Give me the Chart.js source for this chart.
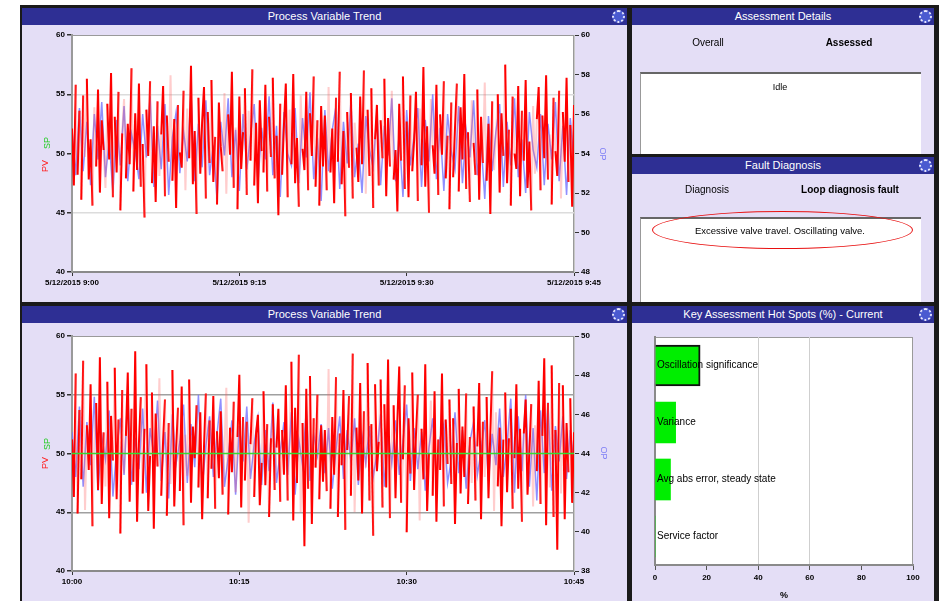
<!DOCTYPE html>
<html><head><meta charset="utf-8">
<script src="https://cdn.jsdelivr.net/npm/chart.js@4/dist/chart.umd.min.js"></script>
<style>
body{margin:0;width:939px;height:601px;background:#fff;position:relative;overflow:hidden;font-family:"Liberation Sans",Arial,sans-serif;}
.frame{position:absolute;left:20px;top:5px;width:919px;height:596px;background:#1a1a1a;}
.panel{position:absolute;background:#e4def6;overflow:hidden;}
.tbar{position:absolute;left:0;top:0;right:0;height:17px;background:#2e2f94;color:#fff;font-size:11px;line-height:17px;text-align:center;}
.gear{position:absolute;right:2px;top:2px;width:9px;height:9px;border-radius:50%;border:2px dotted #e8e8ff;background:#4a5ad0;}
canvas{position:absolute;left:0;}
.vt{position:absolute;font-size:9px;white-space:nowrap;width:30px;text-align:center;line-height:10px;}
.lbl{position:absolute;font-size:10px;white-space:nowrap;transform:translateX(-50%);}
.wbox{position:absolute;background:#fff;border-top:2px solid #666;border-left:1px solid #999;}
</style></head>
<body>
<div class="frame"></div>

<div class="panel" style="left:22px;top:8px;width:605px;height:294px;">
  <div class="tbar">Process Variable Trend<div class="gear"></div></div>
  <canvas id="cTop" width="605" height="277" style="top:17px"></canvas>
  <div class="vt" style="left:10px;top:130px;color:#22cc22;transform:rotate(-90deg)">SP</div>
  <div class="vt" style="left:8px;top:153px;color:#ff2020;transform:rotate(-90deg)">PV</div>
  <div class="vt" style="left:566px;top:141px;color:#7f7ff5;transform:rotate(90deg)">OP</div>
</div>

<div class="panel" style="left:22px;top:306px;width:605px;height:295px;">
  <div class="tbar">Process Variable Trend<div class="gear"></div></div>
  <canvas id="cBot" width="605" height="278" style="top:17px"></canvas>
  <div class="vt" style="left:10px;top:133px;color:#22cc22;transform:rotate(-90deg)">SP</div>
  <div class="vt" style="left:8px;top:152px;color:#ff2020;transform:rotate(-90deg)">PV</div>
  <div class="vt" style="left:567px;top:142px;color:#7f7ff5;transform:rotate(90deg)">OP</div>
</div>

<div class="panel" style="left:632px;top:8px;width:302px;height:146px;">
  <div class="tbar">Assessment Details<div class="gear"></div></div>
  <div class="lbl" style="left:76px;top:29px;">Overall</div>
  <div class="lbl" style="left:217px;top:29px;font-weight:bold;">Assessed</div>
  <div class="wbox" style="left:8px;top:64px;width:280px;height:90px;">
    <div class="lbl" style="left:139px;top:8px;font-size:9px;">Idle</div>
  </div>
</div>

<div class="panel" style="left:632px;top:157px;width:302px;height:145px;">
  <div class="tbar">Fault Diagnosis<div class="gear"></div></div>
  <div class="lbl" style="left:75px;top:27px;">Diagnosis</div>
  <div class="lbl" style="left:218px;top:27px;font-weight:bold;">Loop diagnosis fault</div>
  <div class="wbox" style="left:8px;top:60px;width:280px;height:90px;"></div>
  <div class="lbl" style="left:148px;top:68px;font-size:9.5px;">Excessive valve travel. Oscillating valve.</div>
  <div style="position:absolute;left:20px;top:54px;width:259px;height:36px;border:1.5px solid #e81010;border-radius:50%;"></div>
</div>

<div class="panel" style="left:632px;top:306px;width:302px;height:295px;">
  <div class="tbar">Key Assessment Hot Spots (%) - Current<div class="gear"></div></div>
  <canvas id="cBar" width="302" height="278" style="top:17px"></canvas>
</div>

<script>
// ---- data ----
const timeLabelsTop = ['5/12/2015 9:00', '5/12/2015 9:15', '5/12/2015 9:30', '5/12/2015 9:45'];
const timeLabelsBottom = ['10:00', '10:15', '10:30', '10:45'];

const pvTop = [
52.1,47.3,55.8,48.2,53.6,46.1,54.9,49.7,56.3,47.8,
51.2,45.6,53.9,48.9,55.4,46.7,52.8,50.3,47.1,54.2,
49.5,56.8,46.3,53.1,48.4,55.2,45.2,51.7,54.6,47.9,
52.5,49.1,57.2,46.8,53.4,48.6,55.9,47.2,50.8,44.6,
53.7,49.8,56.1,47.5,52.3,45.9,54.4,48.1,51.6,55.7,
46.4,53.2,49.3,56.6,47.7,52.9,45.4,54.1,50.1,48.8,
55.3,46.9,53.8,49.6,57.4,47.4,51.9,44.9,54.7,48.3,
52.7,55.6,46.2,53.5,49.2,56.2,47.6,51.4,45.7,54.3,
50.6,48.5,55.1,46.6,53.3,49.9,56.9,47.1,52.2,45.3,
54.8,48.7,51.8,55.5,46.5,53.6,49.4,57.1,47.3,52.6,
45.8,54.5,50.2,48.4,55.8,46.8,53.1,49.7,56.4,47.9,
51.5,44.8,54.2,48.2,52.4,55.9,46.3,53.7,49.1,56.7,
47.5,51.3,45.5,54.9,50.4,48.6,55.2,46.9,53.4,49.8,
56.5,47.2,52.8,45.6,54.0,48.9,
53.2,46.9,55.6,48.4,52.1,45.8,54.7,49.3,56.9,47.4,
51.9,44.7,53.5,48.8,55.1,46.2,52.6,50.5,47.6,54.8,
49.1,57.0,46.6,53.7,48.1,55.5,45.4,51.2,54.1,47.3,
52.8,49.6,56.3,46.4,53.0,48.9,55.3,47.8,50.3,45.1,
54.2,49.4,56.5,47.0,52.7,46.3,54.9,48.5,51.1,55.2,
46.0,53.8,49.0,57.3,47.2,52.3,45.0,54.6,50.7,48.3,
55.8,46.5,53.3,49.9,56.1,47.9,51.5,45.3,54.3,48.0,
52.2,55.9,46.8,53.9,49.5,56.7,47.0,51.8,45.9,54.5,
50.9,48.2,55.4,46.1,53.1,49.2,56.0,47.7,52.5,44.9,
54.4,48.6,51.4,55.0,46.7,53.4,49.8,57.5,47.5,52.0,
45.6,54.8,50.0,48.7,55.7,46.4,53.6,49.4,56.2,47.1,
51.0,45.2,54.0,48.3,52.9,55.6,46.9,53.2,49.6,56.6,
47.8,51.6,45.7,54.7,50.2,48.1,55.3,46.2,53.5,49.3,
56.4,47.6,52.4,45.5,54.1];
const opTop = [
55.2,52.9,56.3,53.1,55.6,52.4,56.0,53.7,56.6,52.8,
54.7,52.0,55.7,53.4,56.4,52.6,55.0,54.1,52.7,56.0,
53.8,56.9,52.3,55.4,53.2,56.5,51.9,54.8,56.1,53.0,
55.1,53.6,57.0,52.6,55.5,53.3,56.7,52.9,54.4,51.7,
55.6,53.9,56.8,52.8,55.2,52.1,56.0,53.2,54.9,56.5,
52.5,55.3,53.7,56.9,52.9,55.4,51.8,56.1,54.0,53.4,
56.3,52.5,55.8,53.8,57.1,52.7,54.8,51.6,56.2,53.1,
55.2,56.4,52.2,55.6,53.5,56.6,52.8,54.5,52.0,55.9,
54.2,53.3,56.1,52.4,55.4,53.9,56.8,52.6,55.0,51.8,
56.2,53.4,54.9,56.3,52.3,55.7,53.6,57.0,52.7,55.3,
52.1,56.0,54.1,53.2,56.4,52.5,55.2,53.8,56.7,52.9,
54.6,51.7,55.9,53.1,55.1,56.5,52.3,55.6,53.4,56.8,
52.8,54.7,52.0,56.1,54.2,53.3,56.0,52.4,55.5,53.7,
56.6,52.6,55.4,51.9,55.8,53.5];

const pvBottom = [
51.2,46.3,56.8,44.9,53.7,47.8,57.9,45.2,52.4,48.6,
55.9,43.8,50.7,54.3,46.9,58.2,45.7,51.8,47.2,56.1,
44.5,53.2,49.4,57.3,46.1,52.9,43.2,55.4,48.3,51.5,
56.9,45.9,53.8,47.6,58.7,44.2,50.9,54.8,46.6,52.1,
57.6,45.1,49.8,55.2,43.6,53.4,48.9,56.4,46.4,51.1,
54.6,44.7,52.6,47.4,57.1,45.5,50.4,53.9,46.8,55.7,
43.9,51.6,48.1,56.3,45.8,52.3,49.6,54.1,47.1,53.5,
44.4,50.6,55.1,46.2,52.8,48.7,54.9,45.3,51.9,47.9,
53.6,46.5,50.2,55.6,44.8,52.2,48.4,54.4,46.7,51.4,
56.7,45.4,53.1,47.7,52.7,44.1,50.8,54.7,46.3,51.7,
53.3,45.6,49.2,55.3,47.3,52.5,44.6,51.3,54.2,46.9,
50.5,53.8,45.9,52.0,48.2,55.8,46.0,51.0,57.8,44.3,
53.9,47.5,58.4,45.0,52.6,42.1,55.5,47.0,56.6,44.0,
53.0,48.8,55.0,46.1,52.4,47.6,
52.0,46.8,57.2,45.3,53.1,48.2,56.5,44.6,51.7,49.0,
55.4,43.5,50.3,54.9,46.4,58.5,45.0,52.2,47.7,56.0,
44.9,53.6,48.8,57.7,46.0,52.5,43.0,55.9,48.5,51.0,
56.3,45.4,54.2,47.1,58.0,44.5,51.3,54.1,46.2,52.8,
57.4,45.8,49.5,55.8,43.3,53.0,48.3,56.9,46.9,51.6,
55.0,44.3,52.1,47.8,57.6,45.1,50.0,54.5,46.4,55.3,
44.2,51.2,48.6,56.8,45.5,52.9,49.1,54.6,47.4,53.0,
44.0,50.9,55.5,46.6,52.3,48.0,55.1,45.7,51.4,47.5,
54.0,46.0,50.6,56.0,44.4,52.7,48.0,54.8,46.2,51.8,
57.0,45.1,53.5,47.2,52.2,43.8,51.2,55.2,46.7,51.3,
53.8,45.3,49.6,55.9,47.0,52.1,44.2,51.7,54.6,46.5,
50.1,54.2,45.5,52.4,48.5,56.2,45.7,51.5,58.1,43.9,
54.3,47.1,57.5,44.6,52.0,41.8,56.0,46.6,55.8,44.4,
52.6,48.4,54.7,45.8,51.8];
const opBottom = [
45.1,42.8,46.4,42.3,45.6,43.4,46.9,42.1,44.9,43.7,
46.2,41.8,44.2,45.8,42.9,47.1,42.4,44.8,43.2,46.3,
42.0,45.3,43.9,46.7,42.6,45.1,41.7,46.0,43.5,44.6,
46.5,42.5,45.5,43.3,47.0,42.2,44.4,45.9,42.8,45.0,
46.8,42.3,43.8,45.7,41.9,45.4,43.6,46.4,42.7,44.5,
45.8,42.4,45.2,43.1,46.6,42.5,44.1,45.6,42.9,46.1,
41.9,44.7,43.4,46.2,42.6,45.0,43.9,45.5,43.0,45.3,
42.2,44.2,45.9,42.7,45.2,43.6,45.8,42.4,44.9,43.5,
45.4,42.8,44.0,46.0,42.3,45.1,43.5,45.7,42.9,44.6,
46.5,42.6,45.3,43.2,45.1,42.1,44.3,45.8,42.7,44.8,
45.5,42.5,43.7,46.1,43.0,45.2,42.2,44.6,45.6,42.9,
44.1,45.7,42.6,45.0,43.4,46.3,42.8,44.5,46.8,42.0,
45.9,43.1,47.0,42.3,45.3,41.6,46.2,43.0,46.6,42.1,
45.4,43.6,45.9,42.7,45.2,43.3];
const spBottom = 50;

const hotSpotCategories = ['Oscillation significance', 'Variance', 'Avg abs error, steady state', 'Service factor'];
const hotSpotValues = [17.5, 8, 6, 0];

// ---- drawing ----
const areaBg = {
  id: 'areaBg',
  beforeDraw(c) {
    const a = c.chartArea, x = c.ctx;
    x.save();
    x.fillStyle = '#fff';
    x.fillRect(a.left, a.top, a.right - a.left, a.bottom - a.top);
    x.strokeStyle = '#9a9a9a';
    x.lineWidth = 1;
    x.strokeRect(a.left + 0.5, a.top + 0.5, a.right - a.left - 1, a.bottom - a.top - 1);
    x.restore();
  }
};

const tickFont = {family: '"Liberation Sans", Arial, sans-serif', size: 8, weight: 'bold'};

function lineChart(id, pv, op, sp, yL, yR, xLabels, gridCol, topPad) {
  const last = pv.length - 1;
  const step = last / 3;
  const opStep = last / (op.length - 1);
  const ds = [
    {label: 'OP', data: op.map((v, i) => ({x: i * opStep, y: v})), yAxisID: 'yR',
     borderColor: 'rgba(115,115,255,0.8)', borderWidth: 1.5, pointRadius: 0, order: 3},
    {label: 'PV', data: pv.map((v, i) => ({x: i, y: v})), yAxisID: 'yL',
     borderColor: '#ff0000', borderWidth: 2, pointRadius: 0, order: 2,
     segment: {borderColor: c => (c.p0DataIndex % 5 === 2 || c.p0DataIndex % 7 === 4 || c.p0DataIndex % 11 === 6) ? 'rgba(255,90,90,0.3)' : '#ff0000'}}
  ];
  if (sp !== null) {
    ds.push({label: 'SP', data: [{x: 0, y: sp}, {x: last, y: sp}], yAxisID: 'yL',
      borderColor: '#33dd33', borderWidth: 1.5, pointRadius: 0, order: 1});
  }
  return new Chart(document.getElementById(id), {
    type: 'line',
    data: {datasets: ds},
    options: {
      responsive: false, animation: false,
      layout: {padding: {top: topPad}},
      plugins: {legend: {display: false}, tooltip: {enabled: false}},
      scales: {
        x: {type: 'linear', min: 0, max: last,
            ticks: {stepSize: step, autoSkip: false, maxRotation: 0, font: tickFont, color: '#000', padding: 2,
                    callback: v => xLabels[Math.round(v / step)]},
            grid: {color: 'transparent', drawOnChartArea: false, tickColor: '#333', tickLength: 4},
            border: {color: '#8a8a8a', width: 2},
            afterFit: s => { s.height = 30; }},
        yL: {position: 'left', min: yL[0], max: yL[1],
             ticks: {stepSize: yL[2], font: tickFont, color: '#000', padding: 2},
             grid: {color: c => (c.tick && (c.tick.value === yL[0] + yL[2] || c.tick.value === yL[1] - yL[2])) ? gridCol : 'transparent',
                    lineWidth: 1.5, tickColor: '#333', tickLength: 5},
             border: {color: '#9a9a9a', width: 2},
             afterFit: s => { s.width = 50; }},
        yR: {position: 'right', min: yR[0], max: yR[1],
             ticks: {stepSize: yR[2], font: tickFont, color: '#000', padding: 2},
             grid: {drawOnChartArea: false, tickColor: '#333', tickLength: 5},
             border: {color: '#c8c8c8', width: 1},
             afterFit: s => { s.width = 53; }}
      }
    },
    plugins: [areaBg]
  });
}

lineChart('cTop', pvTop, opTop, null, [40, 60, 5], [48, 60, 2], timeLabelsTop, '#dcdcdc', 10);
lineChart('cBot', pvBottom, opBottom, spBottom, [40, 60, 5], [38, 50, 2], timeLabelsBottom, '#a0a0a0', 13);

new Chart(document.getElementById('cBar'), {
  type: 'bar',
  data: {labels: hotSpotCategories,
         datasets: [{data: hotSpotValues, backgroundColor: '#00ee00', borderColor: '#111',
                     borderWidth: [2, 0, 0, 0], borderSkipped: 'start', barThickness: 41}]},
  options: {
    indexAxis: 'y', responsive: false, animation: false,
    layout: {padding: {top: 14, right: 21}},
    plugins: {legend: {display: false}, tooltip: {enabled: false}},
    scales: {
      x: {min: 0, max: 100,
          ticks: {stepSize: 20, font: tickFont, color: '#000', padding: 3},
          grid: {color: c => (c.tick && (c.tick.value === 40 || c.tick.value === 60)) ? '#cfcfcf' : 'transparent',
                 tickColor: '#555', tickLength: 5},
          border: {color: '#8a8a8a', width: 2},
          title: {display: true, text: '%', font: {size: 9, weight: 'bold'}, color: '#000', padding: 0},
          afterFit: s => { s.height = 36; }},
      y: {ticks: {mirror: true, padding: 2, color: '#000', font: {family: '"Liberation Sans", Arial, sans-serif', size: 10}, z: 1},
          grid: {display: false},
          border: {color: '#8a8a8a', width: 2},
          afterFit: s => { s.width = 23; }}
    }
  },
  plugins: [areaBg]
});
</script>
</body></html>
